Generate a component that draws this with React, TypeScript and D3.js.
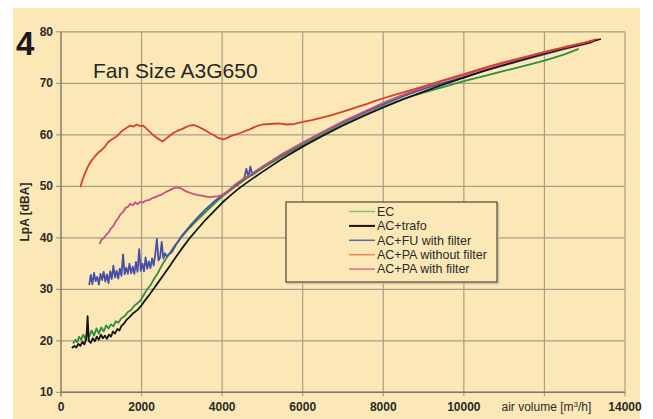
import React from 'react';
import { scaleLinear, line } from 'd3';

const width = 653;
const height = 419;
const margin = { top: 31.8, right: 28, bottom: 26.7, left: 61 };
const boundedWidth = width - margin.left - margin.right;
const boundedHeight = height - margin.top - margin.bottom;

const xTicks = [0, 2000, 4000, 6000, 8000, 10000, 14000];
const xGrid = [2000, 4000, 6000, 8000, 10000, 12000, 14000];
const yTicks = [10, 20, 30, 40, 50, 60, 70, 80];

const seriesNames = ['EC', 'AC+trafo', 'AC+FU with filter', 'AC+PA without filter', 'AC+PA with filter'];
const lineColors = ['#2f8f3c', '#151515', '#4650a8', '#d8402a', '#c8507e'];
const legendColors = ['#7cc47a', '#151515', '#5a6aa0', '#e88a50', '#d86a96'];

const ec = [
  [300, 19.5], [360, 20.2], [400, 19.7], [450, 20.8], [500, 20.2], [550, 21.2], [600, 20.4], [650, 21.6],
  [700, 20.8], [760, 22.0], [820, 21.0], [880, 22.4], [940, 21.4], [1000, 22.6], [1060, 21.8], [1120, 23.0],
  [1180, 22.4], [1240, 23.2], [1300, 22.8], [1360, 23.8], [1420, 23.5], [1500, 24.4], [1580, 24.8],
  [1660, 25.6], [1740, 26.0], [1820, 26.8], [1900, 27.3], [1980, 27.9], [2060, 29.0], [2140, 30.0],
  [2220, 30.8], [2300, 31.9], [2400, 33.1], [2500, 34.6], [2600, 35.9], [2700, 37.0], [2800, 38.2],
  [2900, 39.2], [3000, 40.2], [3200, 42.0], [3400, 43.6], [3600, 45.1], [3800, 46.6], [4000, 48.0],
  [4300, 49.8], [4600, 51.5], [5000, 53.5], [5500, 55.9], [6000, 58.0], [6500, 60.1], [7000, 62.0],
  [7500, 63.8], [8000, 65.5], [8500, 67.0], [9000, 68.2], [9500, 69.3], [10000, 70.4], [10500, 71.4],
  [11000, 72.4], [11500, 73.4], [12000, 74.4], [12500, 75.6], [12850, 76.7],
];

const acTrafo = [
  [270, 18.6], [330, 19.0], [380, 18.7], [430, 19.4], [480, 19.0], [530, 19.8], [580, 19.3], [630, 20.4],
  [660, 24.8], [690, 20.0], [740, 19.6], [790, 20.5], [840, 19.9], [890, 20.8], [940, 20.2], [990, 21.2],
  [1040, 20.5], [1090, 21.0], [1140, 20.4], [1190, 21.2], [1240, 20.8], [1290, 21.8], [1340, 21.4],
  [1400, 22.3], [1450, 22.0], [1500, 22.9], [1560, 23.3], [1620, 24.0], [1700, 24.6], [1800, 25.4],
  [1900, 26.0], [2000, 26.9], [2100, 28.0], [2200, 29.0], [2300, 30.1], [2400, 31.2], [2500, 32.3],
  [2600, 33.4], [2700, 34.5], [2800, 35.7], [2900, 36.8], [3000, 37.9], [3200, 40.0], [3400, 41.8],
  [3600, 43.6], [3800, 45.2], [4000, 46.8], [4200, 48.2], [4400, 49.5], [4700, 51.2], [5000, 52.8],
  [5500, 55.4], [6000, 57.7], [6500, 59.8], [7000, 61.8], [7500, 63.6], [8000, 65.3], [8500, 66.9],
  [9000, 68.4], [9500, 69.8], [10000, 71.1], [10500, 72.4], [11000, 73.6], [11500, 74.7], [12000, 75.8],
  [12500, 76.8], [13000, 77.7], [13400, 78.6],
];

const acFu = [
  [700, 30.8], [740, 32.8], [780, 31.0], [820, 33.2], [860, 31.6], [900, 32.4], [940, 30.9], [980, 33.0],
  [1020, 31.8], [1060, 33.4], [1100, 31.5], [1140, 32.9], [1180, 31.2], [1220, 33.5], [1260, 32.0],
  [1300, 34.6], [1340, 32.3], [1380, 33.6], [1420, 32.1], [1460, 34.0], [1500, 32.6], [1540, 36.8],
  [1580, 32.9], [1620, 34.2], [1660, 33.0], [1700, 35.0], [1740, 33.1], [1780, 34.4], [1820, 33.0],
  [1860, 35.3], [1900, 33.4], [1940, 37.8], [1980, 33.6], [2020, 35.0], [2060, 33.5], [2100, 36.2],
  [2140, 34.0], [2180, 35.4], [2220, 34.1], [2260, 36.0], [2300, 34.6], [2340, 36.8], [2380, 39.8],
  [2420, 35.6], [2460, 36.2], [2500, 39.2], [2540, 36.0], [2580, 37.0], [2620, 36.4], [2680, 36.8],
  [2750, 37.2], [2850, 38.6], [3000, 40.4], [3200, 42.3], [3400, 44.0], [3600, 45.6], [3800, 47.0],
  [4000, 48.3], [4200, 49.4], [4400, 50.6], [4550, 51.6], [4600, 53.4], [4650, 51.8], [4700, 53.8],
  [4750, 52.2], [4800, 52.6], [5000, 53.8], [5500, 56.2], [6000, 58.4], [6500, 60.5], [7000, 62.4],
  [7500, 64.2], [8000, 65.9], [8500, 67.5], [9000, 68.9], [9500, 70.1], [10000, 71.2], [10500, 72.4],
  [11000, 73.5], [11500, 74.6], [12000, 75.6], [12500, 76.7], [13000, 77.6], [13200, 78.0],
];

const acPaNoFilter = [
  [480, 49.8], [540, 51.4], [600, 52.6], [680, 54.0], [760, 55.0], [840, 55.8], [920, 56.5], [1000, 57.0],
  [1080, 57.6], [1160, 58.5], [1240, 59.0], [1320, 59.4], [1400, 59.8], [1480, 60.5], [1560, 61.0],
  [1640, 61.4], [1720, 61.8], [1800, 61.6], [1880, 62.0], [1960, 61.7], [2040, 61.8], [2120, 61.2],
  [2200, 60.6], [2280, 60.0], [2360, 59.5], [2440, 59.1], [2520, 58.7], [2600, 59.2], [2700, 59.8],
  [2800, 60.4], [2900, 60.8], [3000, 61.1], [3100, 61.5], [3200, 61.8], [3300, 61.9], [3400, 61.6],
  [3500, 61.2], [3600, 60.8], [3700, 60.3], [3800, 59.9], [3900, 59.4], [4030, 59.1], [4100, 59.3],
  [4200, 59.7], [4300, 60.0], [4400, 60.2], [4500, 60.5], [4600, 60.8], [4700, 61.1], [4800, 61.5],
  [4900, 61.8], [5000, 62.0], [5200, 62.1], [5400, 62.2], [5600, 62.0], [5800, 62.1], [6000, 62.5],
  [6200, 62.8], [6400, 63.2], [6600, 63.6], [6800, 64.0], [7000, 64.5], [7200, 65.0], [7400, 65.5],
  [7600, 66.0], [7800, 66.6], [8000, 67.1], [8300, 67.8], [8600, 68.5], [9000, 69.4], [9500, 70.6],
  [10000, 71.8], [10500, 73.0], [11000, 74.1], [11500, 75.1], [12000, 76.1], [12500, 77.0],
  [13000, 77.9], [13300, 78.6],
];

const acPaFilter = [
  [960, 38.8], [1000, 39.6], [1060, 39.9], [1120, 40.6], [1180, 41.0], [1240, 41.8], [1300, 42.3],
  [1360, 43.2], [1420, 43.8], [1480, 44.6], [1540, 45.0], [1600, 45.8], [1660, 46.0], [1720, 46.6],
  [1780, 46.3], [1840, 46.9], [1900, 46.5], [1960, 47.0], [2020, 46.8], [2100, 47.2], [2180, 47.3],
  [2260, 47.7], [2340, 47.9], [2420, 48.2], [2500, 48.4], [2580, 48.8], [2660, 49.1], [2740, 49.4],
  [2820, 49.7], [2900, 49.8], [2980, 49.6], [3060, 49.2], [3140, 48.9], [3220, 48.7], [3300, 48.5],
  [3400, 48.3], [3500, 48.2], [3600, 48.0], [3700, 47.9], [3800, 48.0], [3900, 48.1], [4000, 48.3],
  [4100, 48.8], [4200, 49.5], [4300, 50.2], [4400, 50.8], [4500, 51.3], [4700, 52.3], [5000, 53.8],
  [5500, 56.3], [6000, 58.5], [6500, 60.6], [7000, 62.6], [7500, 64.4], [8000, 66.2], [8500, 67.8],
  [9000, 69.2], [9500, 70.5], [10000, 71.6], [10500, 72.8], [11000, 73.9], [11500, 75.0], [12000, 76.0],
  [12500, 77.0], [13000, 77.9], [13200, 78.3],
];

const allSeries = [ec, acTrafo, acFu, acPaNoFilter, acPaFilter];
// drawing order: lower traces first, red/pink on top like the original
const drawOrder = [0, 2, 1, 4, 3];

const xScale = scaleLinear().domain([0, 14000]).range([0, boundedWidth]);
const yScale = scaleLinear().domain([10, 80]).range([boundedHeight, 0]);

const pathOf = line<number[]>()
  .x(d => xScale(d[0]))
  .y(d => yScale(d[1]));

const tickFont = '"Liberation Sans Narrow", "Liberation Sans", Arial, sans-serif';
const textFont = '"Liberation Sans", Arial, sans-serif';

export default function App() {
  return (
    <svg width={width} height={height} style={{ position: 'absolute', left: 0, top: 0 }}>
      <rect x={0} y={0} width={width} height={height} fill='#ffffff' />
      <rect x={13} y={8} width={627} height={height - 8} fill='#fbe8b6' />
      <text x={16} y={55} fontFamily={tickFont} fontWeight='bold' fontSize={33} fill='#1a1a1a'>
        4
      </text>
      <g transform={`translate(${margin.left}, ${margin.top})`}>
        {yTicks.map(t => (
          <g key={t}>
            <line x1={-5} x2={boundedWidth} y1={yScale(t)} y2={yScale(t)} stroke='#a69f86' strokeWidth={1.2} />
            <text
              x={-8}
              y={yScale(t)}
              dy='.35em'
              textAnchor='end'
              fontFamily={tickFont}
              fontWeight='bold'
              fontSize={12}
              fill='#2a2a2a'>
              {t}
            </text>
          </g>
        ))}
        {xGrid.map(t => (
          <line key={t} x1={xScale(t)} x2={xScale(t)} y1={0} y2={boundedHeight + 4} stroke='#a69f86' strokeWidth={1.2} />
        ))}
        {xTicks.map(t => (
          <text
            key={t}
            x={xScale(t)}
            y={boundedHeight + 19}
            textAnchor='middle'
            fontFamily={tickFont}
            fontWeight='bold'
            fontSize={12}
            fill='#2a2a2a'>
            {t}
          </text>
        ))}
        <line x1={0} x2={0} y1={0} y2={boundedHeight + 4} stroke='#7d7766' strokeWidth={1.4} />
        <line x1={0} x2={boundedWidth} y1={boundedHeight} y2={boundedHeight} stroke='#7d7766' strokeWidth={1.4} />
        <text
          x={xScale(12000) + 2}
          y={boundedHeight + 19}
          textAnchor='middle'
          fontFamily={textFont}
          fontSize={12}
          fill='#2a2a2a'>
          air volume [m<tspan dy={-4} fontSize={8}>3</tspan><tspan dy={4}>/h]</tspan>
        </text>
        <text
          transform={`translate(${-32}, ${yScale(45)}) rotate(-90)`}
          textAnchor='middle'
          fontFamily={textFont}
          fontWeight='bold'
          fontSize={12}
          fill='#2a2a2a'>
          LpA [dBA]
        </text>
        <text x={32} y={46} fontFamily={textFont} fontSize={21} fill='#262626'>
          Fan Size A3G650
        </text>
        {drawOrder.map(i => (
          <path
            key={seriesNames[i]}
            d={pathOf(allSeries[i]) || ''}
            fill='none'
            stroke={lineColors[i]}
            strokeWidth={1.8}
            strokeLinejoin='round'
          />
        ))}
      </g>
      <g transform='translate(286, 202)'>
        <rect x={1.5} y={1.5} width={211} height={80} fill='none' stroke='#cfc4a0' strokeWidth={1.5} />
        <rect x={0} y={0} width={211} height={80} fill='#fbe8b6' stroke='#4a4740' strokeWidth={1.2} />
        {seriesNames.map((name, i) => (
          <g key={name} transform={`translate(0, ${9.5 + i * 14.4})`}>
            <line x1={63} x2={89} y1={0} y2={0} stroke={legendColors[i]} strokeWidth={i === 1 ? 2 : 1.5} />
            <text x={91} y={0} dy='.35em' fontFamily={textFont} fontSize={12.5} fill='#2a2a2a'>
              {name}
            </text>
          </g>
        ))}
      </g>
    </svg>
  );
}
